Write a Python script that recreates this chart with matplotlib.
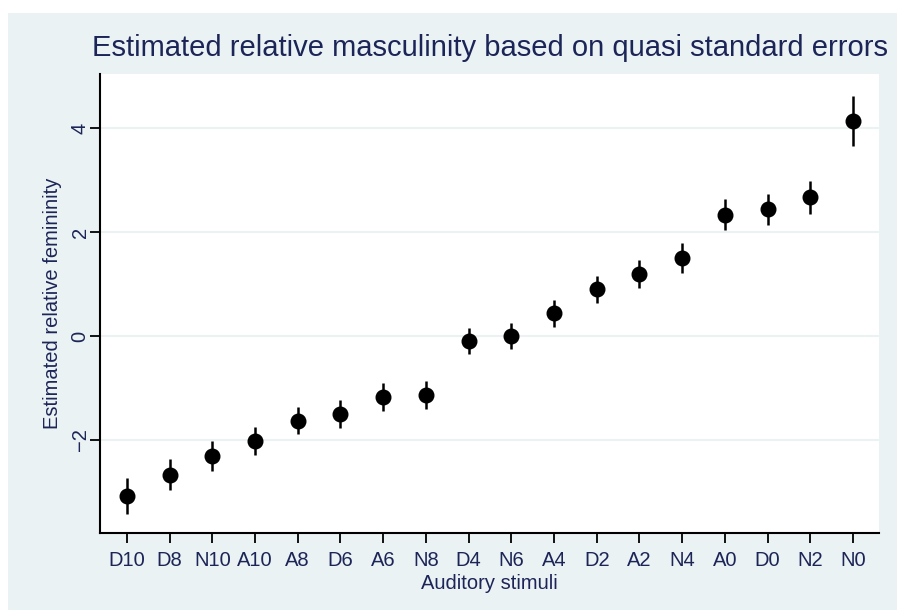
import matplotlib.pyplot as plt
from matplotlib.patches import Rectangle
import numpy as np

# stimuli ordered by estimated femininity
stimuli = ["D10", "D8", "N10", "A10", "A8", "D6", "A6", "N8", "D4",
           "N6", "A4", "D2", "A2", "N4", "A0", "D0", "N2", "N0"]
estimate = [-3.08, -2.67, -2.31, -2.02, -1.63, -1.50, -1.17, -1.13, -0.10,
            0.00, 0.44, 0.90, 1.19, 1.50, 2.33, 2.44, 2.67, 4.13]
half_ci = [0.34, 0.30, 0.29, 0.27, 0.26, 0.27, 0.27, 0.27, 0.25,
           0.25, 0.26, 0.26, 0.27, 0.28, 0.30, 0.30, 0.32, 0.48]
yticks = [-2, 0, 2, 4]

bg = "#eaf2f3"
txt = "#1c2557"

plt.rcParams['font.family'] = ['Liberation Sans', 'DejaVu Sans']

W, H = 897, 610
fig = plt.figure(figsize=(W / 100, H / 100), dpi=100)
fig.patch.set_facecolor("white")
fig.patches.append(Rectangle((8 / W, 0), 1 - 8 / W, 1 - 13 / H,
                             transform=fig.transFigure, facecolor=bg,
                             edgecolor="none", zorder=-10))

ax = fig.add_axes([100 / W, 1 - 533 / H, (879 - 100) / W, (533 - 74) / H])
ax.set_facecolor("white")

x = np.arange(len(stimuli))
ax.errorbar(x, estimate, yerr=half_ci, fmt="o", color="black",
            markersize=10.5, elinewidth=1.8, capsize=0, zorder=3)

ax.set_xlim(-0.63, 17.61)
ax.set_ylim(-3.79, 5.04)
ax.set_xticks(x)
ax.set_xticklabels(stimuli, fontsize=14.5, color=txt)
ax.set_yticks(yticks)
ax.set_yticklabels([str(v).replace("-", "\u2212") for v in yticks],
                   fontsize=14.5, color=txt, rotation=90, va="center")
ax.grid(axis="y", color=bg, linewidth=1.5, zorder=0)
ax.set_axisbelow(True)

for s in ["top", "right"]:
    ax.spines[s].set_visible(False)
for s in ["left", "bottom"]:
    ax.spines[s].set_linewidth(1.5)
    ax.spines[s].set_color("black")
ax.tick_params(length=7, width=1.3, color="black")
ax.tick_params(axis="x", pad=6)
ax.tick_params(axis="y", pad=0.5)

ax.set_xlabel("Auditory stimuli", fontsize=14.5, color=txt, labelpad=3)
ax.set_ylabel("Estimated relative femininity", fontsize=14.5, color=txt,
              labelpad=6)
ax.set_title("Estimated relative masculinity based on quasi standard errors",
             fontsize=21, color=txt, pad=13)

fig.savefig("out.png", dpi=100, facecolor=fig.get_facecolor())
